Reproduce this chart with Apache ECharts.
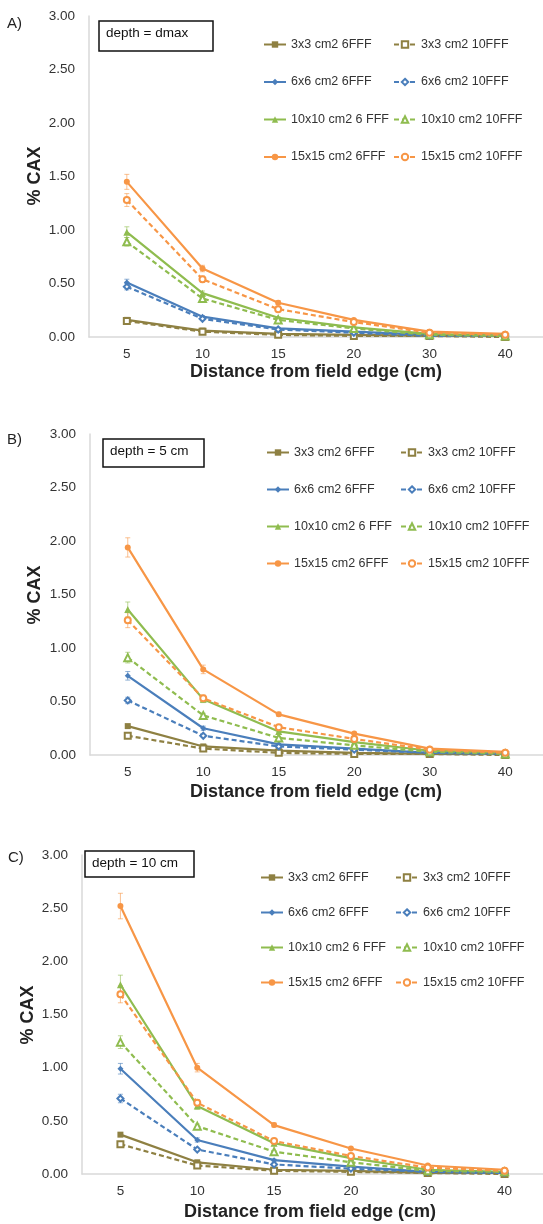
<!DOCTYPE html>
<html>
<head>
<meta charset="utf-8">
<script src="https://cdn.jsdelivr.net/npm/echarts@6/dist/echarts.min.js"></script>
<style>
  html, body { margin: 0; padding: 0; background: #fff; }
  .panel { position: absolute; left: 0; width: 543px; }
</style>
</head>
<body>
<div id="pA" class="panel" style="top:0;height:400px"></div>
<div id="pB" class="panel" style="top:400px;height:410px"></div>
<div id="pC" class="panel" style="top:810px;height:414px"></div>
<script>
// distancias desde el borde del campo (cm)
const distances = ['5', '10', '15', '20', '30', '40']
const yTicks = [0, 0.5, 1, 1.5, 2, 2.5, 3]

const names6 = ['3x3 cm2 6FFF', '6x6 cm2 6FFF', '10x10 cm2 6 FFF', '15x15 cm2 6FFF']
const names10 = ['3x3 cm2 10FFF', '6x6 cm2 10FFF', '10x10 cm2 10FFF', '15x15 cm2 10FFF']

// A) depth = dmax
const dmax3_6 = [0.16, 0.06, 0.03, 0.02, 0.01, 0.01]
const dmax3_10 = [0.15, 0.05, 0.02, 0.01, 0.01, 0.00]
const dmax6_6 = [0.51, 0.19, 0.08, 0.05, 0.02, 0.01]
const dmax6_10 = [0.47, 0.17, 0.07, 0.04, 0.01, 0.01]
const dmax10_6 = [0.98, 0.41, 0.18, 0.09, 0.03, 0.01]
const dmax10_10 = [0.89, 0.36, 0.16, 0.08, 0.02, 0.01]
const dmax15_6 = [1.45, 0.64, 0.32, 0.16, 0.05, 0.03]
const dmax15_10 = [1.28, 0.54, 0.26, 0.14, 0.04, 0.02]
const dmax6_6err = [0.03, 0.01, 0.01, 0, 0, 0]
const dmax6_10err = [0.03, 0.01, 0.01, 0, 0, 0]
const dmax10_6err = [0.05, 0.02, 0.01, 0.01, 0, 0]
const dmax10_10err = [0.04, 0.02, 0.01, 0.01, 0, 0]
const dmax15_6err = [0.07, 0.03, 0.02, 0.01, 0.01, 0.01]
const dmax15_10err = [0.06, 0.03, 0.02, 0.01, 0.01, 0.01]

// B) depth = 5 cm
const d5_3_6 = [0.27, 0.08, 0.04, 0.02, 0.01, 0.01]
const d5_3_10 = [0.18, 0.06, 0.02, 0.01, 0.01, 0.00]
const d5_6_6 = [0.74, 0.25, 0.10, 0.06, 0.02, 0.01]
const d5_6_10 = [0.51, 0.18, 0.08, 0.05, 0.02, 0.01]
const d5_10_6 = [1.36, 0.52, 0.22, 0.12, 0.04, 0.02]
const d5_10_10 = [0.91, 0.37, 0.16, 0.09, 0.03, 0.01]
const d5_15_6 = [1.94, 0.80, 0.38, 0.20, 0.06, 0.03]
const d5_15_10 = [1.26, 0.53, 0.26, 0.15, 0.05, 0.02]
const d5_6_6err = [0.04, 0.02, 0.01, 0, 0, 0]
const d5_6_10err = [0.03, 0.01, 0.01, 0, 0, 0]
const d5_10_6err = [0.07, 0.03, 0.01, 0.01, 0, 0]
const d5_10_10err = [0.05, 0.02, 0.01, 0.01, 0, 0]
const d5_15_6err = [0.09, 0.04, 0.02, 0.01, 0.01, 0]
const d5_15_10err = [0.07, 0.03, 0.02, 0.01, 0.01, 0]

// C) depth = 10 cm
const d10_3_6 = [0.37, 0.11, 0.04, 0.03, 0.01, 0.01]
const d10_3_10 = [0.28, 0.08, 0.03, 0.02, 0.01, 0.00]
const d10_6_6 = [0.99, 0.32, 0.13, 0.07, 0.02, 0.01]
const d10_6_10 = [0.71, 0.23, 0.09, 0.05, 0.02, 0.01]
const d10_10_6 = [1.78, 0.64, 0.29, 0.15, 0.04, 0.02]
const d10_10_10 = [1.24, 0.45, 0.21, 0.11, 0.03, 0.02]
const d10_15_6 = [2.52, 1.00, 0.46, 0.24, 0.08, 0.04]
const d10_15_10 = [1.69, 0.67, 0.31, 0.17, 0.06, 0.03]
const d10_6_6err = [0.05, 0.02, 0.01, 0, 0, 0]
const d10_6_10err = [0.04, 0.01, 0.01, 0, 0, 0]
const d10_10_6err = [0.09, 0.03, 0.02, 0.01, 0, 0]
const d10_10_10err = [0.06, 0.02, 0.01, 0.01, 0, 0]
const d10_15_6err = [0.12, 0.04, 0.02, 0.01, 0.01, 0]
const d10_15_10err = [0.08, 0.03, 0.02, 0.01, 0.01, 0]

const FONT = '"Liberation Sans", Arial, sans-serif'
const colores = ['#8e8042', '#4a7ebb', '#8fbc4f', '#f79646']
const simbolos6 = ['rect', 'diamond', 'triangle', 'circle']
const simbolos10 = ['emptyRect', 'emptyDiamond', 'emptyTriangle', 'emptyCircle']

function linea(name, data, i, dashed) {
  return {
    type: 'line',
    name,
    data,
    symbol: dashed ? simbolos10[i] : simbolos6[i],
    symbolSize: i === 2 ? 7 : 6,
    lineStyle: { color: colores[i], width: 2.2, type: dashed ? [5, 3] : 'solid' },
    itemStyle: { color: colores[i], borderWidth: dashed ? 1 : 0 },
    z: 3,
  }
}

function barras(vals, errs, i) {
  const data = vals.map((v, k) => [k, v - errs[k], v + errs[k], errs[k]])
  return {
    type: 'custom',
    name: 'err' + i,
    silent: true,
    z: 2,
    data,
    renderItem(params, api) {
      if (!api.value(3)) return null
      const lo = api.coord([api.value(0), api.value(1)])
      const hi = api.coord([api.value(0), api.value(2)])
      const st = { stroke: colores[i], lineWidth: 1, opacity: 0.6 }
      return {
        type: 'group',
        children: [
          { type: 'line', shape: { x1: lo[0], y1: lo[1], x2: hi[0], y2: hi[1] }, style: st },
          { type: 'line', shape: { x1: lo[0] - 2.5, y1: lo[1], x2: lo[0] + 2.5, y2: lo[1] }, style: st },
          { type: 'line', shape: { x1: hi[0] - 2.5, y1: hi[1], x2: hi[0] + 2.5, y2: hi[1] }, style: st },
        ],
      }
    },
  }
}

function panel(el, g, series6, series10, errs) {
  const series = []
  errs.forEach(([vals, e, i]) => series.push(barras(vals, e, i)))
  series6.forEach((d, i) => series.push(linea(names6[i], d, i, false)))
  series10.forEach((d, i) => series.push(linea(names10[i], d, i, true)))

  const leyenda = (data, left) => ({
    data,
    orient: 'vertical',
    left,
    top: g.legTop,
    itemWidth: 22,
    itemHeight: 8,
    itemGap: g.legGap,
    selectedMode: false,
    textStyle: { fontFamily: FONT, fontSize: 12.5, color: '#333' },
  })

  const chart = echarts.init(document.getElementById(el))
  chart.setOption({
    animation: false,
    grid: { left: g.left, top: g.top, width: g.width, height: g.height },
    legend: [leyenda(names6, g.leg1), leyenda(names10, g.leg2)],
    xAxis: {
      type: 'category',
      data: distances,
      axisLine: { lineStyle: { color: '#d9d9d9', width: 1.5 } },
      axisTick: { show: false },
      axisLabel: { fontFamily: FONT, fontSize: 13.5, color: '#333', margin: 10 },
    },
    yAxis: {
      type: 'value',
      min: yTicks[0],
      max: yTicks[yTicks.length - 1],
      interval: 0.5,
      axisLine: { show: true, lineStyle: { color: '#d9d9d9', width: 1.5 } },
      axisTick: { show: false },
      splitLine: { show: false },
      axisLabel: {
        fontFamily: FONT, fontSize: 13.5, color: '#333', margin: 14,
        formatter: v => v.toFixed(2),
      },
    },
    graphic: [
      { type: 'text', left: g.tagX, top: g.tagY, style: { text: g.tag, font: '15px ' + FONT, fill: '#222' } },
      {
        type: 'rect', shape: { x: g.box[0], y: g.box[1], width: g.box[2], height: g.box[3] },
        style: { fill: '#fff', stroke: '#111', lineWidth: 1.5 }, z: 10,
      },
      {
        type: 'text', x: g.box[0] + 7, y: g.box[1] + 12, z: 11,
        style: { text: g.depth, font: '13.5px ' + FONT, fill: '#111', verticalAlign: 'middle' },
      },
      {
        type: 'text', x: g.yTitle[0], y: g.yTitle[1], rotation: Math.PI / 2,
        style: { text: '% CAX', font: 'bold 18px ' + FONT, fill: '#222', align: 'center', verticalAlign: 'middle' },
      },
      {
        type: 'text', x: g.xTitle[0], y: g.xTitle[1],
        style: { text: 'Distance from field edge (cm)', font: 'bold 18px ' + FONT, fill: '#222', align: 'center', verticalAlign: 'middle' },
      },
    ],
    series,
  })
  return chart
}

panel('pA', {
  left: 89, top: 16, width: 456, height: 321,
  legTop: 33, legGap: 24.5, leg1: 258, leg2: 388,
  tag: 'A)', tagX: 7, tagY: 16, box: [99, 21, 114, 30], depth: 'depth = dmax',
  yTitle: [35, 176], xTitle: [316, 372],
}, [dmax3_6, dmax6_6, dmax10_6, dmax15_6], [dmax3_10, dmax6_10, dmax10_10, dmax15_10], [
  [dmax6_6, dmax6_6err, 1], [dmax6_10, dmax6_10err, 1],
  [dmax10_6, dmax10_6err, 2], [dmax10_10, dmax10_10err, 2],
  [dmax15_6, dmax15_6err, 3], [dmax15_10, dmax15_10err, 3],
])

panel('pB', {
  left: 90, top: 34, width: 458, height: 321,
  legTop: 41, legGap: 24, leg1: 261, leg2: 395,
  tag: 'B)', tagX: 7, tagY: 32, box: [103, 39, 101, 28], depth: 'depth = 5 cm',
  yTitle: [35, 195], xTitle: [316, 392],
}, [d5_3_6, d5_6_6, d5_10_6, d5_15_6], [d5_3_10, d5_6_10, d5_10_10, d5_15_10], [
  [d5_6_6, d5_6_6err, 1], [d5_6_10, d5_6_10err, 1],
  [d5_10_6, d5_10_6err, 2], [d5_10_10, d5_10_10err, 2],
  [d5_15_6, d5_15_6err, 3], [d5_15_10, d5_15_10err, 3],
])

panel('pC', {
  left: 82, top: 45, width: 468, height: 319,
  legTop: 56, legGap: 22, leg1: 255, leg2: 390,
  tag: 'C)', tagX: 8, tagY: 40, box: [85, 41, 109, 26], depth: 'depth = 10 cm',
  yTitle: [28, 205], xTitle: [310, 402],
}, [d10_3_6, d10_6_6, d10_10_6, d10_15_6], [d10_3_10, d10_6_10, d10_10_10, d10_15_10], [
  [d10_6_6, d10_6_6err, 1], [d10_6_10, d10_6_10err, 1],
  [d10_10_6, d10_10_6err, 2], [d10_10_10, d10_10_10err, 2],
  [d10_15_6, d10_15_6err, 3], [d10_15_10, d10_15_10err, 3],
])
</script>
</body>
</html>
